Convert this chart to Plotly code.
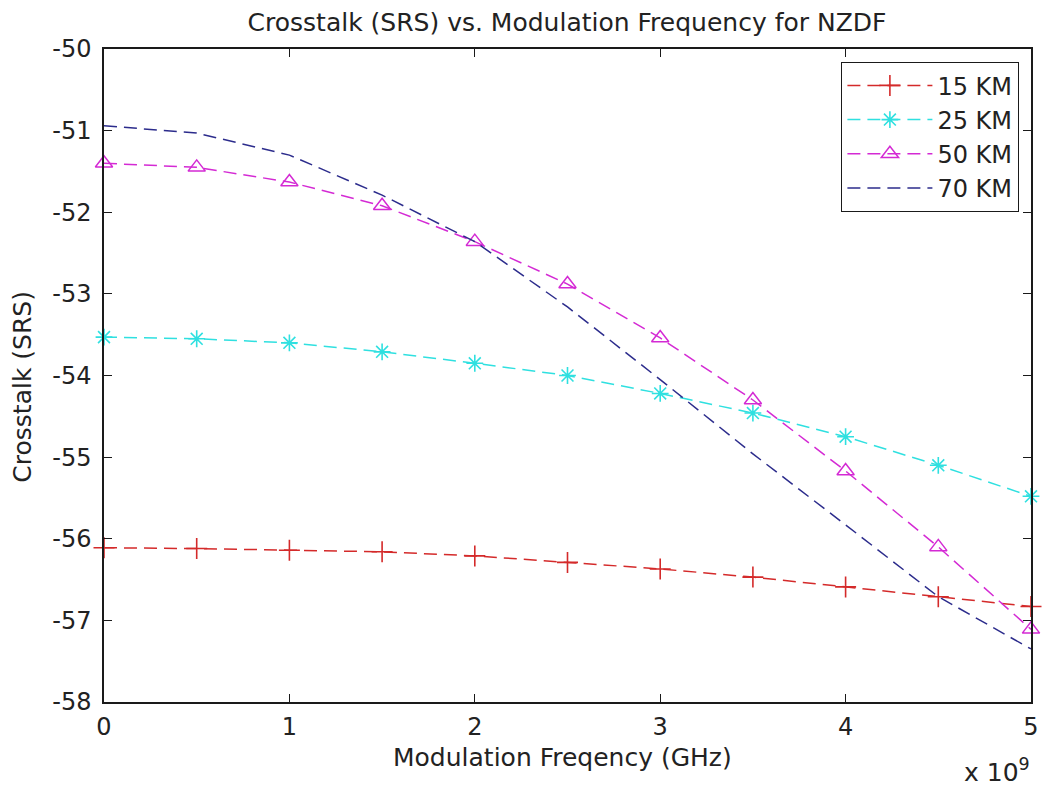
import plotly.graph_objects as go

# ---- data ----
freq_ghz = [0, 0.5, 1, 1.5, 2, 2.5, 3, 3.5, 4, 4.5, 5]
freq_hz = [f * 1e9 for f in freq_ghz]
series_names = ["15 KM", "25 KM", "50 KM", "70 KM"]
km15 = [-56.11, -56.12, -56.14, -56.16, -56.21, -56.29, -56.37, -56.47, -56.59, -56.71, -56.83]
km25 = [-53.53, -53.55, -53.60, -53.71, -53.85, -54.00, -54.22, -54.46, -54.75, -55.10, -55.48]
km50 = [-51.40, -51.45, -51.63, -51.92, -52.36, -52.88, -53.54, -54.30, -55.17, -56.10, -57.11]
km70 = [-50.94, -51.03, -51.30, -51.79, -52.36, -53.16, -54.05, -54.96, -55.83, -56.71, -57.35]
x_tick_vals = [0, 1e9, 2e9, 3e9, 4e9, 5e9]
x_tick_text = ["0", "1", "2", "3", "4", "5"]
y_tick_vals = [-58, -57, -56, -55, -54, -53, -52, -51, -50]
y_tick_text = ["-58", "-57", "-56", "-55", "-54", "-53", "-52", "-51", "-50"]

FONT = "DejaVu Sans, Arial, sans-serif"
TXT = "#222222"
DASH = "13px,7px"
FS = 25

styles = [
    dict(color="#d42a2a", symbol="cross-thin", size=15, mline=1.6),
    dict(color="#2fe0e0", symbol="asterisk", size=14, mline=1.6),
    dict(color="#d42ad4", symbol="triangle-up-open", size=15, mline=1.5),
    dict(color="#2c2c8c", symbol=None, size=0, mline=0),
]
values = [km15, km25, km50, km70]

fig = go.Figure()
for name, ys, st in zip(series_names, values, styles):
    if st["symbol"] is None:
        mode = "lines"
        marker = None
    else:
        mode = "lines+markers"
        marker = dict(symbol=st["symbol"], size=st["size"], color=st["color"],
                      line=dict(color=st["color"], width=st["mline"]))
    fig.add_trace(go.Scatter(
        x=freq_hz, y=ys, name=name, mode=mode,
        line=dict(color=st["color"], width=1.5, dash=DASH),
        marker=marker, cliponaxis=False,
    ))

W, H = 1050, 786
L, R, T, B = 104, 1039, 49, 702

axis_common = dict(
    showline=True, linecolor="#1a1a1a", linewidth=1.5,
    mirror="ticks", ticks="inside", ticklen=8, tickwidth=1.3, tickcolor="#1a1a1a",
    showgrid=False, zeroline=False,
    tickfont=dict(family=FONT, size=24, color=TXT),
)

fig.update_layout(
    width=W, height=H,
    margin=dict(l=L, r=W - R, t=T, b=H - B, pad=0),
    paper_bgcolor="white", plot_bgcolor="white",
    font=dict(family=FONT, size=FS, color=TXT),
    title=dict(text="Crosstalk (SRS) vs. Modulation Frequency for NZDF",
               x=567 / W, xanchor="center",
               y=1 - 22 / H, yanchor="middle",
               font=dict(family=FONT, size=FS, color=TXT)),
    xaxis=dict(range=[0, 5e9], tickvals=x_tick_vals, ticktext=x_tick_text,
               ticklabelstandoff=2, **axis_common),
    yaxis=dict(range=[-58, -50], tickvals=y_tick_vals, ticktext=y_tick_text,
               ticklabelstandoff=6, **axis_common),
    legend=dict(x=(1027 - L) / (R - L), xanchor="right",
                y=(B - 62) / (B - T), yanchor="top",
                bgcolor="white", bordercolor="#1a1a1a", borderwidth=1.3,
                font=dict(family=FONT, size=24, color=TXT),
                itemwidth=85, tracegroupgap=0),
    showlegend=True,
)

fig.add_annotation(text="Modulation Freqency (GHz)", xref="paper", yref="paper",
                   x=(566 - L) / (R - L), y=(B - 757) / (B - T),
                   xanchor="center", yanchor="middle", showarrow=False,
                   font=dict(family=FONT, size=FS, color=TXT))
fig.add_annotation(text="Crosstalk (SRS)", xref="paper", yref="paper",
                   x=(22 - L) / (R - L), y=(B - 387) / (B - T), textangle=-90,
                   xanchor="center", yanchor="middle", showarrow=False,
                   font=dict(family=FONT, size=FS, color=TXT))
fig.add_annotation(text="x 10<sup>9</sup>", xref="paper", yref="paper",
                   x=(1040 - L) / (R - L), y=(B - 770) / (B - T),
                   xanchor="right", yanchor="middle", showarrow=False,
                   font=dict(family=FONT, size=FS, color=TXT))

fig.write_html("out.html")
